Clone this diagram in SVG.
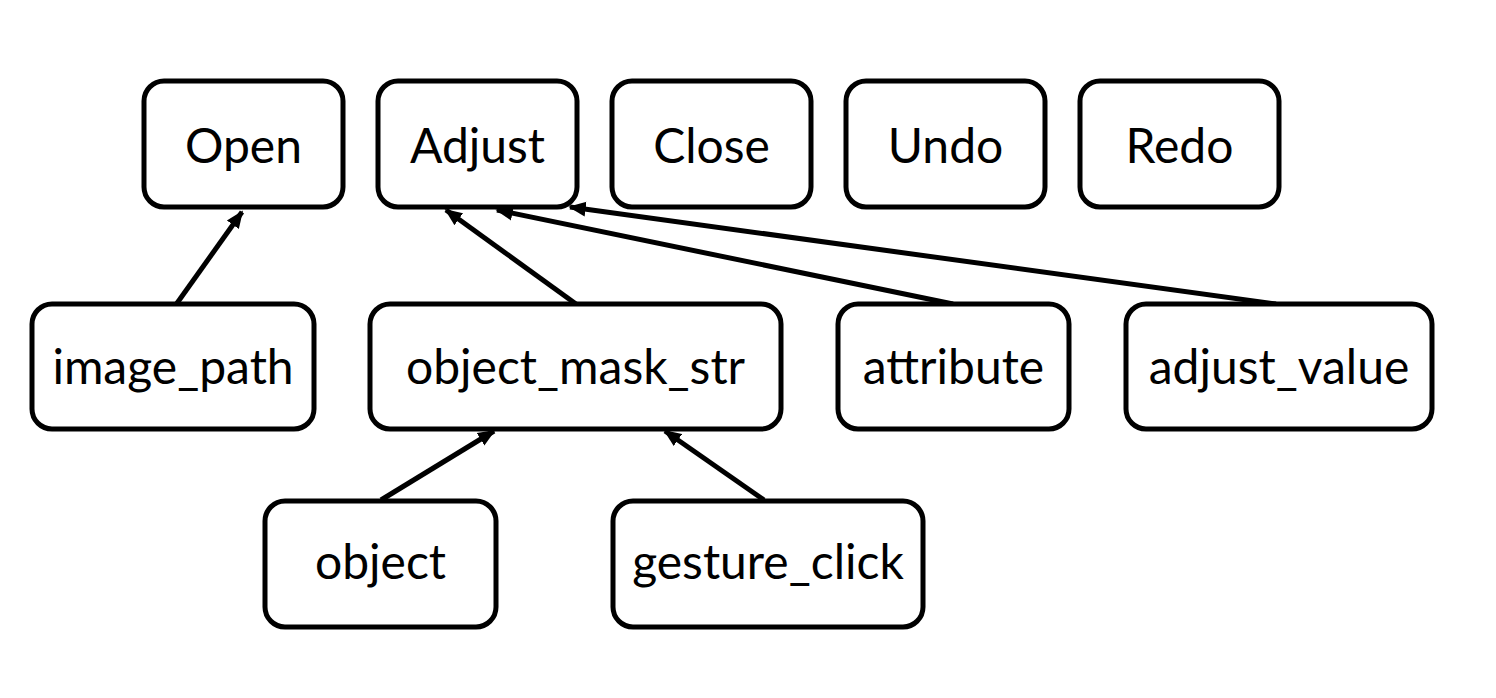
<svg xmlns="http://www.w3.org/2000/svg" width="1496" height="698" viewBox="0 0 1496 698">
<style>
.box{fill:#fff;stroke:#000;stroke-width:5}
.lbl{font-family:Lato,"Liberation Sans",sans-serif;font-size:48px;fill:#000;text-anchor:middle}
.edge{stroke:#000;stroke-width:5;fill:none;marker-end:url(#ah)}
</style>
<defs>
<marker id="ah" viewBox="0 0 10 10" refX="9" refY="5" markerWidth="3.5" markerHeight="3.5" orient="auto" markerUnits="strokeWidth">
<path d="M0,0.8 L10,5 L0,9.2 Z" fill="#000"/>
</marker>
</defs>
<rect width="1496" height="698" fill="#fff"/>
<g id="connectors">
<line class="edge" x1="175" y1="306" x2="242" y2="212"/>
<line class="edge" x1="576" y1="304" x2="446" y2="210"/>
<line class="edge" x1="953" y1="304" x2="497" y2="210"/>
<line class="edge" x1="1276" y1="304" x2="570" y2="207"/>
<line class="edge" x1="381" y1="500" x2="494" y2="431"/>
<line class="edge" x1="764" y1="500" x2="665" y2="431"/>
</g>
<g id="open"><rect class="box" x="144" y="81" width="199" height="126" rx="20"/><text class="lbl" x="243.5" y="163">Open</text></g>
<g id="adjust"><rect class="box" x="378" y="81" width="199" height="126" rx="20"/><text class="lbl" x="477.5" y="163">Adjust</text></g>
<g id="close"><rect class="box" x="612" y="81" width="199" height="126" rx="20"/><text class="lbl" x="711.5" y="163">Close</text></g>
<g id="undo"><rect class="box" x="846" y="81" width="199" height="126" rx="20"/><text class="lbl" x="945.5" y="163">Undo</text></g>
<g id="redo"><rect class="box" x="1080" y="81" width="199" height="126" rx="20"/><text class="lbl" x="1179.5" y="163">Redo</text></g>
<g id="image_path"><rect class="box" x="32" y="304" width="282" height="125" rx="20"/><text class="lbl" x="173" y="384">image_path</text></g>
<g id="object_mask_str"><rect class="box" x="370" y="304" width="411" height="125" rx="20"/><text class="lbl" x="575.5" y="384">object_mask_str</text></g>
<g id="attribute"><rect class="box" x="838" y="304" width="231" height="125" rx="20"/><text class="lbl" x="953.5" y="384">attribute</text></g>
<g id="adjust_value"><rect class="box" x="1126" y="304" width="306" height="125" rx="20"/><text class="lbl" x="1279" y="384">adjust_value</text></g>
<g id="object"><rect class="box" x="265" y="501" width="231" height="126" rx="20"/><text class="lbl" x="380.5" y="579">object</text></g>
<g id="gesture_click"><rect class="box" x="613" y="501" width="310" height="126" rx="20"/><text class="lbl" x="768" y="579">gesture_click</text></g>
</svg>
